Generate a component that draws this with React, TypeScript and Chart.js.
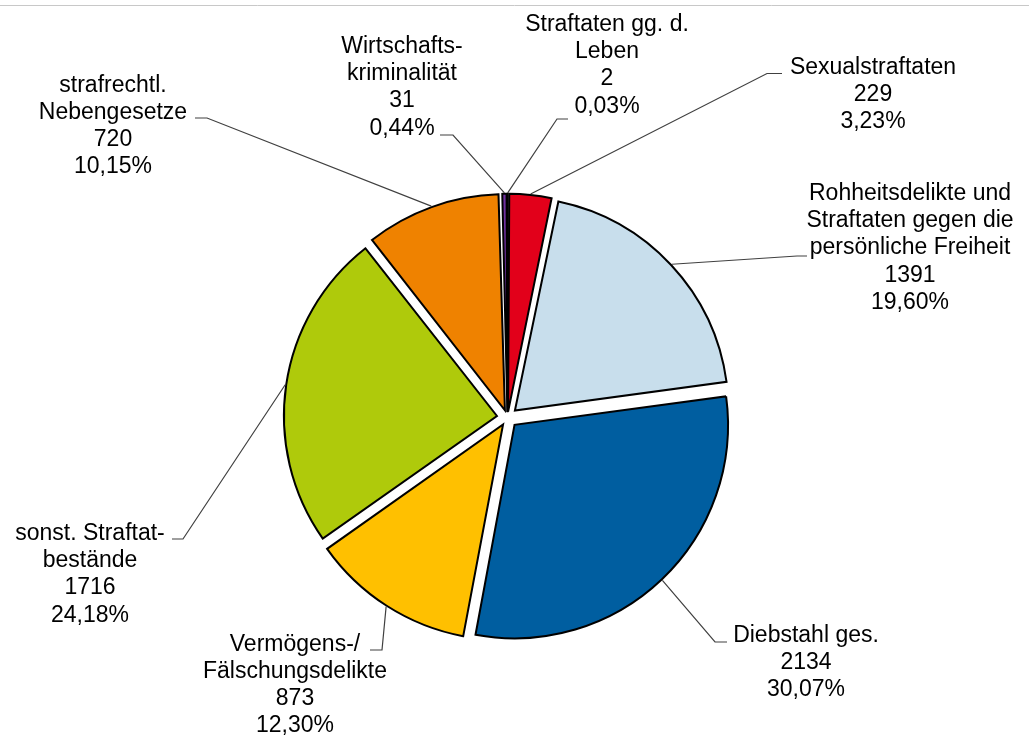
import React, { useEffect, useRef } from 'react';
import { Chart, registerables } from 'chart.js';

Chart.register(...registerables);

// ---- data ----
const categoryLines: string[][] = [
  ['Straftaten gg. d.', 'Leben'],
  ['Sexualstraftaten'],
  ['Rohheitsdelikte und', 'Straftaten gegen die', 'persönliche Freiheit'],
  ['Diebstahl ges.'],
  ['Vermögens-/', 'Fälschungsdelikte'],
  ['sonst. Straftat-', 'bestände'],
  ['strafrechtl.', 'Nebengesetze'],
  ['Wirtschafts-', 'kriminalität'],
];
const values: number[] = [2, 229, 1391, 2134, 873, 1716, 720, 31];
const colors: string[] = ['#1f3864', '#e2001a', '#c8deec', '#005ea0', '#ffc000', '#afca0b', '#ef8200', '#7030a0'];

// ---- label layout (styling) ----
// x: text center, y: first baseline, ex/ey: leader elbow, tx: leader end x
const labelLayout = [
  { x: 607, y: 31, ex: 557, ey: 119, tx: 568 },
  { x: 873, y: 73.5, ex: 767, ey: 73.5, tx: 782 },
  { x: 910, y: 200, ex: 797, ey: 256, tx: 807 },
  { x: 806, y: 642, ex: 715, ey: 642, tx: 727 },
  { x: 295, y: 650.5, ex: 382, ey: 650, tx: 370 },
  { x: 90, y: 540, ex: 183, ey: 539, tx: 172 },
  { x: 113, y: 91.5, ex: 207, ey: 118, tx: 195 },
  { x: 402, y: 53, ex: 453, ey: 135, tx: 440 },
];

const EXPLODE = 10.7;
const LINE_H = 27.2;
const FONT = '23px "Liberation Sans", Arial, sans-serif';

export default function App() {
  const ref = useRef<HTMLCanvasElement>(null);

  useEffect(() => {
    const total = values.reduce((a, b) => a + b, 0);

    const labelPlugin = {
      id: 'pieLabels',
      beforeDraw(chart: any) {
        const ctx = chart.ctx;
        ctx.save();
        ctx.fillStyle = '#ffffff';
        ctx.fillRect(0, 0, chart.width, chart.height);
        ctx.strokeStyle = '#c8c8c8';
        ctx.lineWidth = 1;
        ctx.beginPath();
        ctx.moveTo(0, 5.5);
        ctx.lineTo(chart.width, 5.5);
        ctx.stroke();
        ctx.restore();
      },
      afterDatasetsDraw(chart: any) {
        const ctx = chart.ctx;
        const meta = chart.getDatasetMeta(0);
        ctx.save();
        meta.data.forEach((el: any, i: number) => {
          const lay = labelLayout[i];
          const mid = (el.startAngle + el.endAngle) / 2;
          const cx = el.x + Math.cos(mid) * EXPLODE;
          const cy = el.y + Math.sin(mid) * EXPLODE;
          const r = el.outerRadius + 1;
          const sx = cx + Math.cos(mid) * r;
          const sy = cy + Math.sin(mid) * r;
          ctx.strokeStyle = '#404040';
          ctx.lineWidth = 1.2;
          ctx.beginPath();
          ctx.moveTo(sx, sy);
          ctx.lineTo(lay.ex, lay.ey);
          ctx.lineTo(lay.tx, lay.ey);
          ctx.stroke();

          const pct = ((values[i] / total) * 100).toFixed(2).replace('.', ',') + '%';
          const lines = [...categoryLines[i], String(values[i]), pct];
          ctx.fillStyle = '#000000';
          ctx.font = FONT;
          ctx.textAlign = 'center';
          ctx.textBaseline = 'alphabetic';
          lines.forEach((t, k) => {
            ctx.fillText(t, lay.x, lay.y + k * LINE_H);
          });
        });
        ctx.restore();
      },
    };

    const chart = new Chart(ref.current as HTMLCanvasElement, {
      type: 'pie',
      data: {
        labels: categoryLines.map((l) => l.join(' ')),
        datasets: [
          {
            data: values,
            backgroundColor: colors,
            borderColor: '#000000',
            borderWidth: 2,
            borderJoinStyle: 'miter',
            offset: (c: any) => {
              const v = values[c.dataIndex] ?? 0;
              const circ = (v / total) * Math.PI * 2;
              const fix = 1 - Math.sin(Math.min(Math.PI, circ));
              return (4 * EXPLODE) / (1 + fix);
            },
          } as any,
        ],
      },
      options: {
        responsive: false,
        animation: false,
        radius: 213,
        layout: { padding: { left: 0, right: 14, top: 97, bottom: 0 } },
        plugins: {
          legend: { display: false },
          tooltip: { enabled: false },
        },
      } as any,
      plugins: [labelPlugin],
    });

    return () => chart.destroy();
  }, []);

  return (
    <div style={{ position: 'fixed', left: 0, top: 0, width: 1029, height: 738, background: '#fff' }}>
      <canvas ref={ref} width={1029} height={738} style={{ display: 'block', width: 1029, height: 738 }} />
    </div>
  );
}
